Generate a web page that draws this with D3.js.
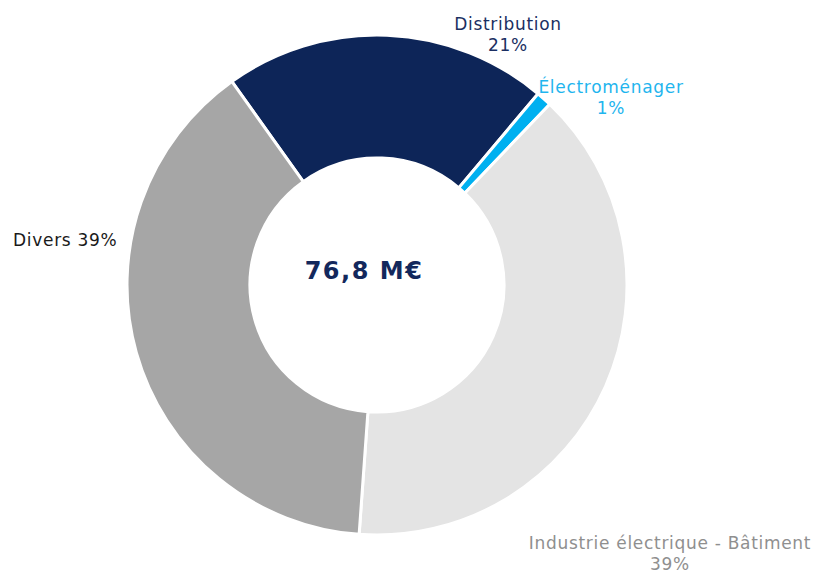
<!DOCTYPE html>
<html>
<head>
<meta charset="utf-8">
<script src="https://cdn.jsdelivr.net/npm/d3@7"></script>
<style>
  html, body { margin: 0; padding: 0; background: #fff; }
  svg { display: block; }
</style>
</head>
<body>
<svg id="chart" width="818" height="573"></svg>
<script>
// Breakdown of revenue by segment (percent of total)
const categories = ["Distribution", "Électroménager", "Industrie électrique - Bâtiment", "Divers"];
const shares = [21, 1, 39, 39];
const colors = ["#0d2558", "#00b0f0", "#e4e4e4", "#a6a6a6"];
const labelColors = ["#1b2f62", "#1fb5ee", "#8f8f8f", "#1a1a1a"];
const totalLabel = "76,8 M€";

// Label lines and their placement (one entry per category)
const labelLines = [["Distribution", "21%"], ["Électroménager", "1%"], ["Industrie électrique - Bâtiment", "39%"], ["Divers 39%"]];
const labelPos = [
  { x: 508, y: 30, anchor: "middle" },
  { x: 611, y: 93, anchor: "middle" },
  { x: 670, y: 549, anchor: "middle" },
  { x: 13, y: 246, anchor: "start" }
];

const svg = d3.select("#chart");
const cx = 377, cy = 285;
const outerR = 250, innerR = 127;

const pie = d3.pie()
  .value(d => d)
  .sort(null)
  .startAngle(-35.5 * Math.PI / 180)
  .endAngle((360 - 35.5) * Math.PI / 180);

const arc = d3.arc().innerRadius(innerR).outerRadius(outerR);

const g = svg.append("g").attr("transform", `translate(${cx},${cy})`);

g.selectAll("path")
  .data(pie(shares))
  .join("path")
  .attr("d", arc)
  .attr("fill", (d, i) => colors[i])
  .attr("stroke", "#fff")
  .attr("stroke-width", 3)
  .attr("stroke-linejoin", "miter");

// Total in the hole
svg.append("text")
  .attr("x", 364)
  .attr("y", 279)
  .attr("text-anchor", "middle")
  .attr("font-family", "DejaVu Sans, sans-serif")
  .attr("font-weight", "bold")
  .attr("font-size", 24)
  .attr("letter-spacing", 1.5)
  .attr("fill", "#13285c")
  .text(totalLabel);

// Category labels
categories.forEach((c, i) => {
  const t = svg.append("text")
    .attr("x", labelPos[i].x)
    .attr("y", labelPos[i].y)
    .attr("text-anchor", labelPos[i].anchor)
    .attr("font-family", "DejaVu Sans, sans-serif")
    .attr("font-size", 17)
    .attr("letter-spacing", 0.7)
    .attr("fill", labelColors[i]);
  labelLines[i].forEach((line, j) => {
    t.append("tspan")
      .attr("x", labelPos[i].x)
      .attr("dy", j === 0 ? 0 : 21)
      .text(line);
  });
});
</script>
</body>
</html>
